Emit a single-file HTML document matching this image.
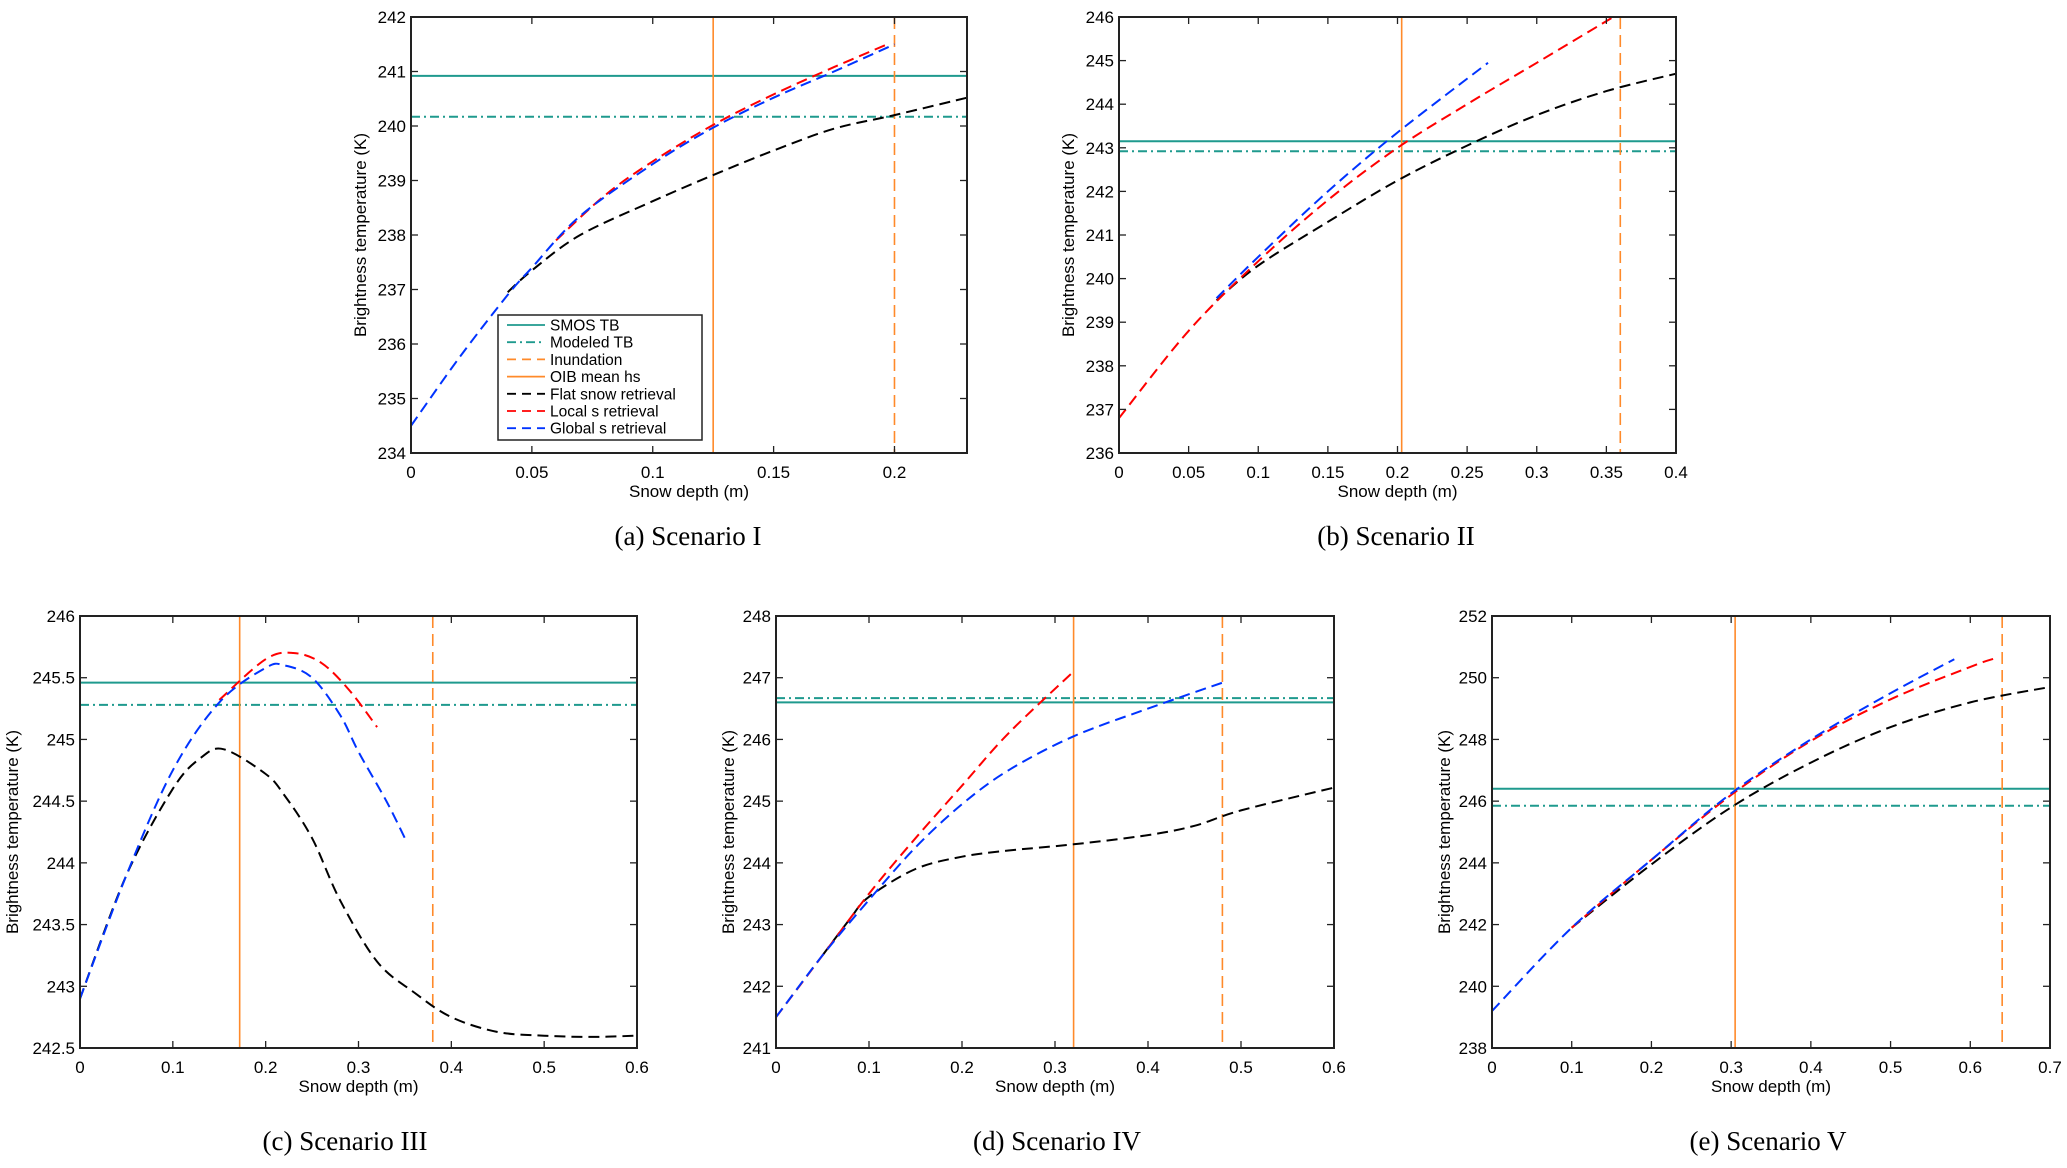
<!DOCTYPE html>
<html><head><meta charset="utf-8"><style>
html,body{margin:0;padding:0;background:#fff}
svg{display:block}
text{font-family:"Liberation Sans",sans-serif}
.cap{font-family:"Liberation Serif",serif;font-size:27px}
</style></head><body>
<svg id="fig" width="2067" height="1168" viewBox="0 0 2067 1168" xmlns="http://www.w3.org/2000/svg"></svg>
<script>
// Panel data
const aXTicks=[0,0.05,0.1,0.15,0.2], aYTicks=[234,235,236,237,238,239,240,241,242];
const aSmos=240.92, aModel=240.17, aOib=0.125, aInund=0.2;
const aFlat=[[0.04,236.95],[0.05,237.35],[0.07,238.0],[0.1,238.62],[0.125,239.1],[0.15,239.55],[0.175,239.95],[0.2,240.2],[0.23,240.52]];
const aLocal=[[0.06,237.9],[0.08,238.72],[0.1,239.35],[0.125,240.02],[0.15,240.58],[0.175,241.08],[0.197,241.5]];
const aGlobal=[[0,234.5],[0.02,235.75],[0.04,236.9],[0.05,237.4],[0.07,238.35],[0.1,239.3],[0.125,239.97],[0.15,240.52],[0.175,241.0],[0.2,241.5]];

const bXTicks=[0,0.05,0.1,0.15,0.2,0.25,0.3,0.35,0.4], bYTicks=[236,237,238,239,240,241,242,243,244,245,246];
const bSmos=243.15, bModel=242.92, bOib=0.203, bInund=0.36;
const bFlat=[[0.07,239.5],[0.1,240.3],[0.15,241.3],[0.2,242.25],[0.25,243.05],[0.3,243.75],[0.35,244.3],[0.4,244.7]];
const bLocal=[[0,236.8],[0.05,238.8],[0.1,240.4],[0.15,241.8],[0.2,243.0],[0.25,244.0],[0.3,244.95],[0.355,246.0]];
const bGlobal=[[0.07,239.55],[0.1,240.5],[0.15,242.0],[0.2,243.35],[0.265,244.95]];

const cXTicks=[0,0.1,0.2,0.3,0.4,0.5,0.6], cYTicks=[242.5,243,243.5,244,244.5,245,245.5,246];
const cSmos=245.46, cModel=245.28, cOib=0.172, cInund=0.38;
const cFlat=[[0,242.9],[0.05,243.9],[0.1,244.6],[0.13,244.85],[0.155,244.92],[0.2,244.72],[0.22,244.55],[0.25,244.2],[0.28,243.7],[0.32,243.2],[0.36,242.95],[0.4,242.75],[0.45,242.63],[0.5,242.6],[0.55,242.59],[0.6,242.6]];
const cLocal=[[0.15,245.32],[0.2,245.65],[0.23,245.7],[0.26,245.62],[0.29,245.4],[0.32,245.1]];
const cGlobal=[[0,242.9],[0.05,243.9],[0.1,244.75],[0.15,245.3],[0.2,245.58],[0.22,245.6],[0.25,245.5],[0.28,245.2],[0.3,244.9],[0.33,244.5],[0.35,244.2]];

const dXTicks=[0,0.1,0.2,0.3,0.4,0.5,0.6], dYTicks=[241,242,243,244,245,246,247,248];
const dSmos=246.6, dModel=246.67, dOib=0.32, dInund=0.48;
const dFlat=[[0.05,242.5],[0.08,243.1],[0.1,243.45],[0.15,243.9],[0.2,244.1],[0.25,244.2],[0.32,244.3],[0.4,244.45],[0.45,244.6],[0.5,244.85],[0.6,245.22]];
const dLocal=[[0,241.5],[0.05,242.5],[0.1,243.5],[0.15,244.4],[0.2,245.25],[0.25,246.1],[0.32,247.1]];
const dGlobal=[[0,241.5],[0.05,242.5],[0.1,243.4],[0.15,244.25],[0.2,244.95],[0.25,245.5],[0.32,246.05],[0.4,246.5],[0.48,246.92]];

const eXTicks=[0,0.1,0.2,0.3,0.4,0.5,0.6,0.7], eYTicks=[238,240,242,244,246,248,250,252];
const eSmos=246.4, eModel=245.85, eOib=0.305, eInund=0.64;
const eFlat=[[0.1,241.9],[0.2,243.95],[0.3,245.8],[0.4,247.25],[0.5,248.4],[0.6,249.2],[0.7,249.7]];
const eLocal=[[0.1,241.9],[0.2,244.1],[0.3,246.2],[0.4,247.95],[0.5,249.3],[0.6,250.35],[0.63,250.62]];
const eGlobal=[[0,239.2],[0.1,241.9],[0.2,244.1],[0.3,246.25],[0.4,248.0],[0.5,249.5],[0.58,250.6]];

const NS="http://www.w3.org/2000/svg";
const svg=document.getElementById('fig');
function mk(tag,attrs,parent){const e=document.createElementNS(NS,tag);for(const k in attrs)e.setAttribute(k,attrs[k]);(parent||svg).appendChild(e);return e;}
const TEAL='#1f9a8e', ORANGE='#ff8a2a';

function smooth(pts){
  let d='M'+pts[0][0].toFixed(1)+','+pts[0][1].toFixed(1);
  for(let i=0;i<pts.length-1;i++){
    const p0=pts[i-1]||pts[i],p1=pts[i],p2=pts[i+1],p3=pts[i+2]||p2;
    const c1=[p1[0]+(p2[0]-p0[0])/6,p1[1]+(p2[1]-p0[1])/6];
    const c2=[p2[0]-(p3[0]-p1[0])/6,p2[1]-(p3[1]-p1[1])/6];
    d+=' C'+c1[0].toFixed(1)+','+c1[1].toFixed(1)+' '+c2[0].toFixed(1)+','+c2[1].toFixed(1)+' '+p2[0].toFixed(1)+','+p2[1].toFixed(1);
  }
  return d;
}

function panel(id,box,xmax,ymin,ymax,xt,yt,smos,model,oib,inund,flat,local,glob,caption,capX,capY){
  const [L,T,R,B]=box;
  const g=mk('g',{});
  
  
  const xs=v=>L+(v/xmax)*(R-L);
  const ys=v=>B-(v-ymin)/(ymax-ymin)*(B-T);
  const clip=mk('clipPath',{id:'clip'+id},g);
  mk('rect',{x:L,y:T,width:R-L,height:B-T},clip);
  const plot=mk('g',{'clip-path':'url(#clip'+id+')'},g);
  const h1=mk('line',{x1:L,x2:R,y1:ys(smos),y2:ys(smos),stroke:TEAL,'stroke-width':2},plot);
  
  
  const h2=mk('line',{x1:L,x2:R,y1:ys(model),y2:ys(model),stroke:TEAL,'stroke-width':2,'stroke-dasharray':'9,4,2,4'},plot);
  
  
  const v1=mk('line',{x1:xs(oib),x2:xs(oib),y1:T,y2:B,stroke:ORANGE,'stroke-width':1.6},plot);
  
  
  const v2=mk('line',{x1:xs(inund),x2:xs(inund),y1:T,y2:B,stroke:ORANGE,'stroke-width':1.6,'stroke-dasharray':'12,6'},plot);
  
  
  const series=[[flat,'#000','flat-snow-curve'],[local,'#f00','local-s-curve'],[glob,'#0033ff','global-s-curve']];
  series.forEach(s=>{
    const p=mk('path',{d:smooth(s[0].map(q=>[xs(q[0]),ys(q[1])])),fill:'none',stroke:s[1],'stroke-width':2,'stroke-dasharray':'11,6'},plot);
    
    
  });
  const fr=mk('rect',{x:L,y:T,width:R-L,height:B-T,fill:'none',stroke:'#222','stroke-width':2},g);
  
  
  xt.forEach(v=>{
    const x=xs(v);
    mk('line',{x1:x,x2:x,y1:B,y2:B-7,stroke:'#222','stroke-width':1.3},g);
    mk('line',{x1:x,x2:x,y1:T,y2:T+7,stroke:'#222','stroke-width':1.3},g);
    const t=mk('text',{x:x,y:B+25,'text-anchor':'middle','font-size':17},g);
    t.textContent=String(v);
    
    
  });
  yt.forEach(v=>{
    const y=ys(v);
    mk('line',{x1:L,x2:L+7,y1:y,y2:y,stroke:'#222','stroke-width':1.3},g);
    mk('line',{x1:R,x2:R-7,y1:y,y2:y,stroke:'#222','stroke-width':1.3},g);
    const t=mk('text',{x:L-5,y:y+6,'text-anchor':'end','font-size':17},g);
    t.textContent=String(v);
    
    
  });
  const xl=mk('text',{x:(L+R)/2,y:B+44,'text-anchor':'middle','font-size':17},g);
  xl.textContent='Snow depth (m)';
  
  
  const ylx=L-(id==='c'?62:id==='a'||id==='b'?45:42);
  const yl=mk('text',{x:ylx,y:(T+B)/2,'text-anchor':'middle','font-size':17,transform:'rotate(-90 '+ylx+' '+(T+B)/2+')'},g);
  yl.textContent='Brightness temperature (K)';
  
  
  const cp=mk('text',{x:capX,y:capY,'text-anchor':'middle',class:'cap'},g);
  cp.textContent=caption;
  
  
}

panel('a',[411,17,967,453],0.23,234,242,aXTicks,aYTicks,aSmos,aModel,aOib,aInund,aFlat,aLocal,aGlobal,'(a) Scenario I',688,545);
panel('b',[1119,17,1676,453],0.4,236,246,bXTicks,bYTicks,bSmos,bModel,bOib,bInund,bFlat,bLocal,bGlobal,'(b) Scenario II',1396,545);
panel('c',[80,616,637,1048],0.6,242.5,246,cXTicks,cYTicks,cSmos,cModel,cOib,cInund,cFlat,cLocal,cGlobal,'(c) Scenario III',345,1150);
panel('d',[776,616,1334,1048],0.6,241,248,dXTicks,dYTicks,dSmos,dModel,dOib,dInund,dFlat,dLocal,dGlobal,'(d) Scenario IV',1057,1150);
panel('e',[1492,616,2050,1048],0.7,238,252,eXTicks,eYTicks,eSmos,eModel,eOib,eInund,eFlat,eLocal,eGlobal,'(e) Scenario V',1768,1150);

// Legend in panel a
const lg=mk('g',{});


mk('rect',{x:498,y:315,width:204,height:125,fill:'#fff',stroke:'#222','stroke-width':1.5},lg);
const legItems=[['SMOS TB',TEAL,''],['Modeled TB',TEAL,'9,4,2,4'],['Inundation',ORANGE,'9,6'],['OIB mean hs',ORANGE,''],[' Flat snow retrieval','#000','9,6'],['Local s retrieval','#f00','9,6'],['Global s retrieval','#0033ff','9,6']];
legItems.forEach((it,i)=>{
  const y=325+i*17.2;
  const row=mk('g',{},lg);
  
  
  mk('line',{x1:507,x2:545,y1:y,y2:y,stroke:it[1],'stroke-width':1.8,'stroke-dasharray':it[2]||'none'},row);
  const t=mk('text',{x:550,y:y+5.5,'font-size':15.5,'xml:space':'preserve'},row);
  t.textContent=it[0];
});
</script>
</body></html>
